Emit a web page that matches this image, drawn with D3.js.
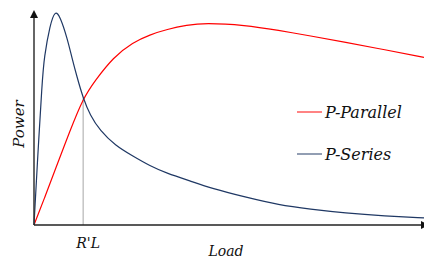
<!DOCTYPE html>
<html>
<head>
<meta charset="utf-8">
<script src="https://cdn.jsdelivr.net/npm/d3@7"></script>
<style>
  body { margin: 0; background: #fff; }
  svg { display: block; }
</style>
</head>
<body>
<div id="wrapper"></div>
<script>
// load axis in arbitrary units (0..10), power normalised (0..1)
let seriesLoad = [0, 0.08, 0.21, 0.26, 0.41, 0.54, 0.67, 0.85, 0.97, 1.1, 1.26, 1.44, 1.69, 2.08, 2.54, 2.97, 3.41, 4.0, 4.56, 5.41, 6.28, 7.08, 7.97, 9.0, 10];
let seriesPower = [0, 0.27, 0.67, 0.78, 0.93, 1.0, 0.97, 0.87, 0.78, 0.69, 0.59, 0.51, 0.44, 0.37, 0.32, 0.275, 0.24, 0.205, 0.17, 0.13, 0.093, 0.074, 0.056, 0.042, 0.033];

let parallelLoad = [0, 0.28, 0.54, 0.92, 1.26, 1.56, 2.03, 2.54, 2.97, 3.41, 3.92, 4.38, 5.41, 6.28, 7.08, 7.97, 9.0, 10];
let parallelPower = [0, 0.13, 0.256, 0.437, 0.59, 0.67, 0.78, 0.85, 0.885, 0.91, 0.93, 0.94, 0.93, 0.905, 0.88, 0.85, 0.815, 0.78];

let rLoad = 1.26;
let rPower = 0.59;

let legendNames = ["P-Parallel", "P-Series"];
let legendColors = ["#ff0000", "#1f3864"];

// only serif face that is really available here
let serif = "DejaVu Serif";

let dimensions = {
  width: 424,
  height: 262,
  margin: { top: 10, right: 0, bottom: 37, left: 34 }
};
dimensions.boundedWidth = dimensions.width - dimensions.margin.left - dimensions.margin.right;
dimensions.boundedHeight = dimensions.height - dimensions.margin.top - dimensions.margin.bottom;

let wrapper = d3.select("#wrapper")
  .append("svg")
  .attr("width", dimensions.width)
  .attr("height", dimensions.height);

let bounds = wrapper.append("g")
  .attr("transform", `translate(${dimensions.margin.left}, ${dimensions.margin.top})`);

let xScale = d3.scaleLinear().domain([0, 10]).range([0, dimensions.boundedWidth]);
let yScale = d3.scaleLinear().domain([0, 1]).range([dimensions.boundedHeight, 0]);

let lineGenerator = d3.line()
  .x(d => xScale(d[0]))
  .y(d => yScale(d[1]))
  .curve(d3.curveBasis);

// R'L marker
bounds.append("line")
  .attr("x1", xScale(rLoad)).attr("x2", xScale(rLoad))
  .attr("y1", yScale(0)).attr("y2", yScale(rPower))
  .attr("stroke", "#a6a6a6")
  .attr("stroke-width", 1);

bounds.append("path")
  .datum(d3.zip(parallelLoad, parallelPower))
  .attr("d", lineGenerator)
  .attr("fill", "none")
  .attr("stroke", legendColors[0])
  .attr("stroke-width", 1.2);

bounds.append("path")
  .datum(d3.zip(seriesLoad, seriesPower))
  .attr("d", lineGenerator)
  .attr("fill", "none")
  .attr("stroke", legendColors[1])
  .attr("stroke-width", 1.2);

// axes with arrow heads
let x0 = xScale(0), y0 = yScale(0);
bounds.append("line")
  .attr("x1", x0).attr("x2", x0)
  .attr("y1", y0).attr("y2", 6)
  .attr("stroke", "#333").attr("stroke-width", 1.5);
bounds.append("path")
  .attr("d", `M${x0},0 L${x0 - 4},8 L${x0 + 4},8 Z`)
  .attr("fill", "#111");

bounds.append("line")
  .attr("x1", x0).attr("x2", dimensions.boundedWidth)
  .attr("y1", y0).attr("y2", y0)
  .attr("stroke", "#222").attr("stroke-width", 1.5);
bounds.append("path")
  .attr("d", `M${dimensions.boundedWidth + 5},${y0} L${dimensions.boundedWidth - 3},${y0 - 4} L${dimensions.boundedWidth - 3},${y0 + 4} Z`)
  .attr("fill", "#111");

// labels
bounds.append("text")
  .attr("transform", `translate(-10, ${yScale(0.47)}) rotate(-90)`)
  .attr("text-anchor", "middle")
  .attr("font-family", serif)
  .attr("font-style", "italic")
  .attr("font-size", 15)
  .attr("fill", "#111")
  .text("Power");

bounds.append("text")
  .attr("x", xScale(rLoad) + 5)
  .attr("y", y0 + 23)
  .attr("text-anchor", "middle")
  .attr("font-family", serif)
  .attr("font-style", "italic")
  .attr("font-size", 14)
  .attr("fill", "#111")
  .text("R'L");

bounds.append("text")
  .attr("x", 192)
  .attr("y", y0 + 31)
  .attr("text-anchor", "middle")
  .attr("font-family", serif)
  .attr("font-style", "italic")
  .attr("font-size", 14)
  .attr("fill", "#111")
  .text("Load");

// legend
let legend = wrapper.append("g").attr("transform", "translate(297, 112)");
let items = legend.selectAll("g")
  .data(legendNames)
  .join("g")
  .attr("transform", (d, i) => `translate(0, ${i * 42})`);

items.append("line")
  .attr("x1", 0).attr("x2", 25)
  .attr("stroke", (d, i) => legendColors[i])
  .attr("stroke-opacity", 0.65)
  .attr("stroke-width", 1.5);

items.append("text")
  .attr("x", 28)
  .attr("y", 6)
  .attr("font-family", serif)
  .attr("font-style", "italic")
  .attr("font-size", 16)
  .attr("fill", "#111")
  .text(d => d);
</script>
</body>
</html>
